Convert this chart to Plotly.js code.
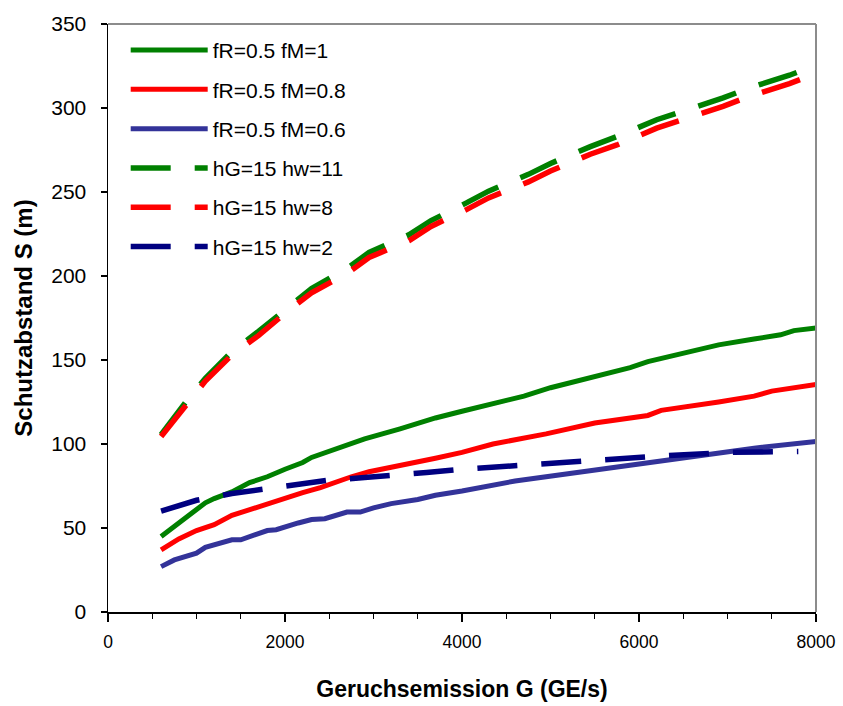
<!DOCTYPE html>
<html>
<head>
<meta charset="utf-8">
<script src="https://cdn.plot.ly/plotly-3.0.1.min.js"></script>
<style>
html,body{margin:0;padding:0;background:#fff;}
#chart{width:843px;height:706px;}
</style>
</head>
<body>
<div id="chart"></div>
<script>
// Series names
const names = ["fR=0.5 fM=1", "fR=0.5 fM=0.8", "fR=0.5 fM=0.6", "hG=15 hw=11", "hG=15 hw=8", "hG=15 hw=2"];

// fR=0.5 fM=1
const xFM1 = [600, 800, 1000, 1100, 1200, 1400, 1600, 1800, 2000, 2200, 2300, 2500, 2700, 2900, 3300, 3700, 4000, 4400, 4700, 5000, 5300, 5600, 5900, 6100, 6500, 6900, 7300, 7600, 7750, 8000];
const yFM1 = [45, 53, 61, 65, 67.5, 71.5, 77, 80.5, 85, 89, 92, 95.5, 99, 103, 109, 115.5, 119.5, 125, 128.5, 133.5, 137.5, 141.5, 145.5, 149, 154, 159, 162.5, 165, 167.5, 169];

// fR=0.5 fM=0.8
const xFM08 = [600, 800, 1000, 1200, 1400, 1600, 1800, 2000, 2200, 2400, 2550, 2750, 2950, 3150, 3400, 3700, 4000, 4350, 4950, 5500, 6100, 6250, 6900, 7300, 7500, 8000];
const yFM08 = [37, 43.5, 48.5, 52, 57.5, 61, 64.5, 67.5, 71, 74, 77, 80.5, 83.5, 85.5, 88.5, 91.5, 95, 100, 106, 112.5, 117, 120, 125, 128.5, 131.5, 135.5];

// fR=0.5 fM=0.6
const xFM06 = [600, 750, 1000, 1100, 1400, 1500, 1800, 1900, 2150, 2300, 2450, 2700, 2850, 3000, 3200, 3500, 3700, 4000, 4600, 5500, 6100, 6400, 7000, 7300, 8000];
const yFM06 = [27, 31, 35, 38.5, 43, 43, 48.5, 49, 53, 55, 55.5, 59.5, 59.5, 62, 64.5, 67, 69.5, 72, 78, 84.5, 89.5, 91, 96, 97.5, 101.5];

// hG=15 hw=11
const xHW11 = [600, 900, 1100, 1400, 1700, 2050, 2300, 2700, 2950, 3400, 3650, 4050, 4300, 4750, 5000, 5450, 5750, 6200, 6500, 6950, 7250, 7700, 8000];
const yHW11 = [105.5, 126.5, 139, 155, 167, 182.5, 192.5, 204.5, 214, 224.5, 233, 243.5, 250.5, 260.5, 267, 277, 283, 293, 298, 306, 312, 319.5, 325.5];

// hG=15 hw=8
const xHW8 = [600, 900, 1100, 1400, 1700, 2050, 2300, 2700, 2950, 3400, 3650, 4050, 4300, 4750, 5000, 5450, 5750, 6200, 6500, 6950, 7250, 7700, 8000];
const yHW8 = [104.5, 125, 137.5, 153, 164.5, 180, 190, 201.5, 211, 221, 229.5, 239.5, 246.5, 256, 262.5, 272.5, 278, 288, 293, 301, 307, 314.5, 320.5];

// hG=15 hw=2
const xHW2 = [600, 1000, 1400, 1800, 2100, 2500, 2900, 3300, 3600, 4000, 4800, 5500, 6300, 7000, 7800];
const yHW2 = [60, 66.5, 70.5, 73.5, 76, 78.5, 80, 81.5, 83, 85, 88, 90, 93, 95, 95.5];

const colors = ["#008000", "#FF0000", "#333399", "#008000", "#FF0000", "#000080"];
const DASH = "40px,24px";

function tr(x, y, i, dashed) {
  return {
    x: x, y: y, name: names[i], type: "scatter", mode: "lines",
    legendgroup: "g" + i,
    line: {color: colors[i], width: dashed ? 5.5 : 5, dash: dashed ? DASH : "solid", shape: "linear"},
    hoverinfo: "x+y+name"
  };
}

const data = [
  tr(xFM1, yFM1, 0, false),
  tr(xFM08, yFM08, 1, false),
  tr(xFM06, yFM06, 2, false),
  tr(xHW11, yHW11, 3, true),
  tr(xHW8, yHW8, 4, true),
  tr(xHW2, yHW2, 5, true)
];

const baseFont = "Liberation Sans, Arial, sans-serif";

const layout = {
  width: 843, height: 706,
  margin: {l: 108, r: 27, t: 24, b: 94},
  paper_bgcolor: "#ffffff",
  plot_bgcolor: "#ffffff",
  font: {family: baseFont, size: 18, color: "#000"},
  showlegend: true,
  legend: {
    x: 0.025, y: 0.99, xanchor: "left", yanchor: "top",
    bgcolor: "rgba(0,0,0,0)", borderwidth: 0,
    font: {family: baseFont, size: 21, color: "#000"},
    tracegroupgap: 9,
    itemwidth: 77,
    traceorder: "grouped"
  },
  xaxis: {
    range: [0, 8000], dtick: 2000, tick0: 0,
    showgrid: false, zeroline: false,
    showline: true, linecolor: "#000", linewidth: 1.5,
    ticks: "outside", ticklen: 8, tickwidth: 1.5, tickcolor: "#000",
    minor: {dtick: 500, ticks: "outside", ticklen: 5, tickwidth: 1, tickcolor: "#000", showgrid: false},
    tickfont: {family: baseFont, size: 17.5},
    ticklabelstandoff: 5,
    title: {text: "Geruchsemission G (GE/s)", font: {family: baseFont, size: 23, weight: "bold"}, standoff: 30},
    fixedrange: true
  },
  yaxis: {
    range: [0, 350], dtick: 50, tick0: 0,
    showgrid: false, zeroline: false,
    showline: true, linecolor: "#000", linewidth: 1.5,
    ticks: "outside", ticklen: 6, tickwidth: 1.5, tickcolor: "#000",
    tickfont: {family: baseFont, size: 21},
    ticklabelstandoff: 10,
    title: {text: "Schutzabstand S (m)", font: {family: baseFont, size: 24, weight: "bold"}, standoff: 12},
    fixedrange: true
  },
  shapes: [
    {type: "line", xref: "paper", yref: "paper", x0: 0, x1: 1, y0: 1, y1: 1, line: {color: "#8c8c8c", width: 2}},
    {type: "line", xref: "paper", yref: "paper", x0: 1, x1: 1, y0: 0, y1: 1, line: {color: "#8c8c8c", width: 2}}
  ]
};

Plotly.newPlot("chart", data, layout, {displayModeBar: false, staticPlot: true}).then(function (gd) {
  // lengthen legend line samples to match the reference
  const paths = gd.querySelectorAll(".legend .traces .js-line");
  paths.forEach(function (p) { p.setAttribute("d", "M5,0h77"); });
});
</script>
</body>
</html>
